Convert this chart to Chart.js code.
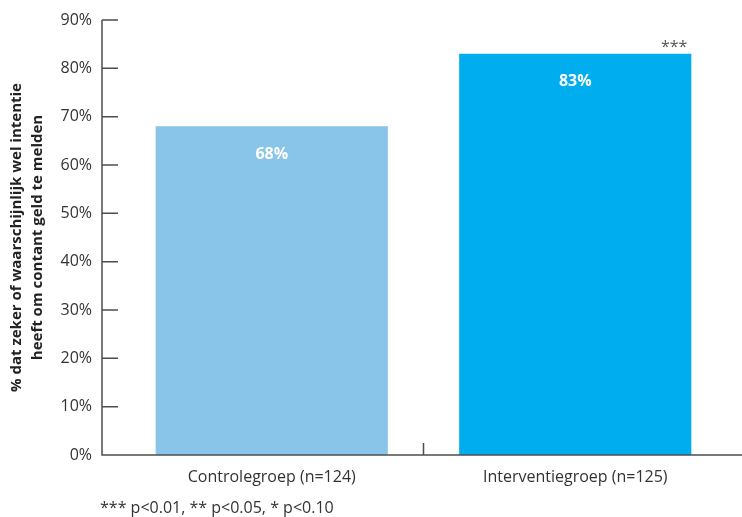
<!DOCTYPE html>
<html>
<head>
<meta charset="utf-8">
<script src="https://cdn.jsdelivr.net/npm/chart.js@4/dist/chart.umd.min.js"></script>
<style>
  html, body { margin: 0; padding: 0; background: #fff; }
  #wrap { position: relative; width: 742px; height: 517px; }
  #note { position: absolute; left: 100px; top: 496px; font: 16px 'Open Sans', sans-serif; color: #333; white-space: nowrap; }
</style>
</head>
<body>
<div id="wrap">
  <canvas id="chart" width="742" height="517"></canvas>
  <div id="note">*** p&lt;0.01, ** p&lt;0.05, * p&lt;0.10</div>
</div>
<script>
// data
const groups = ['Controlegroep (n=124)', 'Interventiegroep (n=125)'];
const pct = [68, 83];
const stars = ['', '***'];
const barColors = ['#88c5e8', '#00aeef'];
const yTitle = ['% dat zeker of waarschijnlijk wel intentie', 'heeft om contant geld te melden'];

const FONT = "'Open Sans', sans-serif";
const AXIS = '#4d4d4d';

// axis lines with inward ticks, plus labels in the bars
const decor = {
  id: 'decor',
  afterDatasetsDraw(chart) {
    const ctx = chart.ctx, ca = chart.chartArea;
    const ys = chart.scales.y, xs = chart.scales.x;
    const ax = ca.left - 18, y0 = ys.getPixelForValue(0);
    ctx.save();
    ctx.strokeStyle = AXIS;
    ctx.lineWidth = 1.5;
    ctx.beginPath();
    ctx.moveTo(ax, ys.getPixelForValue(ys.max));
    ctx.lineTo(ax, y0);
    ctx.lineTo(chart.width, y0);
    ys.ticks.forEach(t => {
      const py = ys.getPixelForValue(t.value);
      ctx.moveTo(ax, py);
      ctx.lineTo(ax + 16, py);
    });
    const mid = (xs.getPixelForValue(0) + xs.getPixelForValue(1)) / 2;
    ctx.moveTo(mid, y0);
    ctx.lineTo(mid, y0 - 12);
    ctx.stroke();

    const meta = chart.getDatasetMeta(0);
    meta.data.forEach((bar, i) => {
      ctx.fillStyle = '#fff';
      ctx.font = 'bold 16px ' + FONT;
      ctx.textAlign = 'center';
      ctx.textBaseline = 'middle';
      ctx.fillText(pct[i] + '%', bar.x, bar.y + 28);
      if (stars[i]) {
        ctx.fillStyle = '#555';
        ctx.font = '16px ' + FONT;
        ctx.textAlign = 'right';
        ctx.textBaseline = 'bottom';
        ctx.fillText(stars[i], bar.x + bar.width / 2 - 4, bar.y + 2);
      }
    });
    ctx.restore();
  }
};

new Chart(document.getElementById('chart'), {
  type: 'bar',
  data: {
    labels: groups,
    datasets: [{
      data: pct,
      backgroundColor: barColors,
      categoryPercentage: 1,
      barPercentage: 0.765
    }]
  },
  options: {
    responsive: false,
    animation: false,
    layout: { padding: { top: 20, right: 15, bottom: 0, left: 0 } },
    plugins: { legend: { display: false }, tooltip: { enabled: false } },
    scales: {
      x: {
        grid: { display: false },
        border: { display: false },
        ticks: { color: '#333', font: { family: FONT, size: 16 }, padding: 5 },
        afterFit(s) { s.height = 62; s.paddingLeft = 0; s.paddingRight = 0; }
      },
      y: {
        min: 0, max: 90,
        grid: { display: false },
        border: { display: false },
        ticks: {
          stepSize: 10, color: '#333', padding: 20,
          font: { family: FONT, size: 16 },
          callback: v => v + '%'
        },
        title: {
          display: true, text: yTitle, color: '#222',
          font: { family: FONT, size: 15, weight: 'bold', lineHeight: 1.35 },
          padding: { top: 7, bottom: 0 }
        },
        afterFit(s) { s.width = 120; s.paddingTop = 0; s.paddingBottom = 0; }
      }
    }
  },
  plugins: [decor]
});
</script>
</body>
</html>
